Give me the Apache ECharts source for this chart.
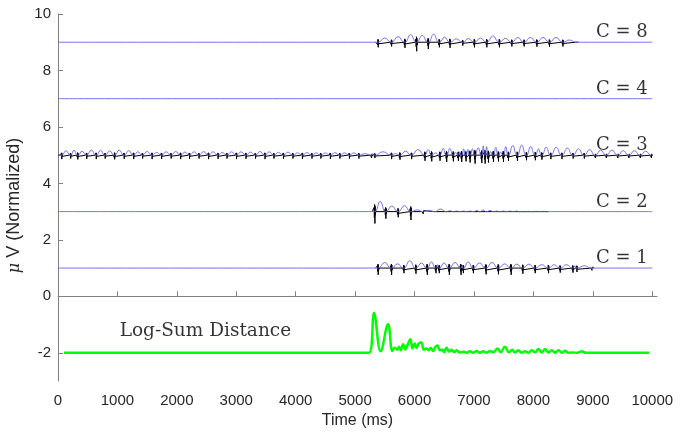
<!DOCTYPE html>
<html>
<head>
<meta charset="UTF-8">
<title>Log-Sum Distance</title>
<script src="https://cdn.jsdelivr.net/npm/echarts@6.0.0/dist/echarts.min.js"></script>
<style>
    html, body {margin: 0; padding: 0; background: #fff;}
    #main {width: 691px; height: 436px;}
</style>
</head>
<body>
<div id="main"></div>
<script type="text/javascript">
    // axes
    var xTicks = [0, 1000, 2000, 3000, 4000, 5000, 6000, 7000, 8000, 9000, 10000];
    var yTicks = [-2, 0, 2, 4, 6, 8, 10];

    // channel names and their offsets
    var chanNames = ['C = 8', 'C = 4', 'C = 3', 'C = 2', 'C = 1'];
    var chanBase = [9, 7, 5, 3, 1];

    // spike times (ms), spike size and envelope hump height between spikes
    var c8Times = [5385, 5610, 5835, 6032, 6228, 6414, 6594, 6808, 7004, 7213, 7425, 7634, 7841, 8056, 8268, 8494, 8718];
    var c8Amps = [0.18, 0.15, 0.2, 0.32, 0.24, 0.18, 0.2, 0.12, 0.18, 0.18, 0.18, 0.15, 0.15, 0.16, 0.16, 0.15, 0.05];
    var c8Humps = [0.15, 0.2, 0.27, 0.24, 0.28, 0.18, 0.12, 0.13, 0.15, 0.22, 0.14, 0.17, 0.17, 0.17, 0.17, 0.08];

    var c4Times = [];
    var c4Amps = [];
    var c4Humps = [];

    var c3Times = [60, 210, 330, 480, 640, 790, 950, 1110, 1270, 1420, 1580, 1740, 1900, 2060, 2210, 2370, 2530,
        2690, 2840, 3000, 3160, 3320, 3480, 3630, 3790, 3950, 4110, 4270, 4420, 4580, 4740, 4900, 5060,
        5273, 5329, 5610, 5751, 5947, 6172, 6285, 6425, 6537, 6650, 6734, 6790, 6863, 6931, 7015, 7128,
        7184, 7240, 7324, 7409, 7493, 7577, 7727, 7880, 8030, 8140, 8290, 8477, 8665, 8853, 9040, 9225,
        9418, 9605, 9797, 9983];
    var c3Amps = [0.14, 0.12, 0.15, 0.13, 0.14, 0.12, 0.15, 0.13, 0.14, 0.12, 0.14, 0.13, 0.12, 0.14, 0.13, 0.12, 0.14,
        0.13, 0.12, 0.14, 0.13, 0.12, 0.14, 0.12, 0.13, 0.12, 0.13, 0.12, 0.12, 0.13, 0.12, 0.12, 0.12,
        0.1, 0.1, 0.14, 0.16, 0.14, 0.2, 0.22, 0.2, 0.24, 0.22, 0.2, 0.24, 0.22, 0.26, 0.3, 0.28,
        0.3, 0.26, 0.24, 0.22, 0.24, 0.2, 0.2, 0.18, 0.18, 0.16, 0.14, 0.14, 0.12, 0.12, 0.1, 0.1,
        0.1, 0.1, 0.1, 0.1];
    var c3Humps = [0.16, 0.18, 0.14, 0.18, 0.17, 0.15, 0.18, 0.16,
        0.12, 0.13, 0.1, 0.12, 0.13, 0.11, 0.12, 0.13, 0.12, 0.1, 0.12, 0.12, 0.11, 0.13, 0.12, 0.1, 0.11,
        0.08, 0.09, 0.08, 0.08, 0.09, 0.08, 0.08, 0.05,
        0.05, 0.12, 0.06, 0.14, 0.2, 0.2, 0.08, 0.24, 0.24, 0.1, 0.12, 0.22, 0.2, 0.22, 0.26, 0.33,
        0.3, 0.12, 0.28, 0.1, 0.3, 0.34, 0.36, 0.3, 0.22, 0.28, 0.28, 0.25, 0.22, 0.2, 0.18, 0.18,
        0.16, 0.16, 0.14];

    var c2Times = [5329, 5514, 5722, 5936, 6144, 6340, 6537, 6650, 6770, 6880, 6990, 7100, 7210, 7330, 7440,
        7550, 7660, 7770, 7880, 7990, 8100, 8210];
    var c2Amps = [0.42, 0.25, 0.2, 0.3, 0.08, 0.06, 0.05, 0.03, 0.04, 0.03, 0.04, 0.03, 0.03, 0.04, 0.03,
        0.04, 0.03, 0.03, 0.02, 0.02, 0.02, 0.02];
    var c2Humps = [0.36, 0.2, 0.21, 0.06, 0.04, 0.09, 0.03, 0.02, 0.02, 0.02, 0.04, 0.06, 0.04, 0.02, 0.02,
        0.02, 0.02, 0.01, 0.01, 0.01, 0.01];

    var c1Times = [5385, 5610, 5818, 6020, 6211, 6357, 6413, 6582, 6779, 6818, 6987, 7200, 7408, 7622, 7819,
        8027, 8251, 8448, 8662, 8729, 8982];
    var c1Amps = [0.24, 0.24, 0.18, 0.2, 0.24, 0.18, 0.18, 0.24, 0.24, 0.18, 0.18, 0.22, 0.22, 0.24, 0.2,
        0.18, 0.18, 0.16, 0.16, 0.14, 0.08];
    var c1Humps = [0.2, 0.15, 0.26, 0.18, 0.22, 0.12, 0.18, 0.2, 0.08, 0.22, 0.18, 0.2, 0.15, 0.14, 0.14,
        0.12, 0.12, 0.12, 0.08, 0.08];

    // Log-Sum Distance curve
    var greenT = [100, 5076, 5233, 5318, 5430, 5554, 5627, 5666, 5706, 5739, 5767, 5807, 5846, 5880, 5930,
        5964, 6003, 6032, 6071, 6116, 6155, 6200, 6240, 6273, 6313, 6352, 6386, 6425, 6464, 6498, 6537,
        6582, 6622, 6667, 6706, 6762, 6819, 6875, 6931, 6987, 7043, 7100, 7156, 7212, 7268, 7324, 7397,
        7448, 7521, 7588, 7645, 7690, 7746, 7802, 7859, 7915, 7971, 8027, 8083, 8140, 8196, 8252, 8308,
        8364, 8421, 8477, 8533, 8589, 8645, 8730, 8814, 8887, 9950];
    var greenV = [-2, -2, -2, -0.59, -1.95, -0.99, -1.94, -1.82, -1.89, -1.79, -1.91, -1.70, -1.88, -1.73, -1.52,
        -1.85, -1.67, -1.83, -1.67, -1.64, -1.89, -1.85, -1.91, -1.82, -1.94, -1.79, -1.74, -1.91, -1.88, -1.98, -1.82,
        -1.96, -1.89, -1.98, -1.91, -1.99, -1.96, -2, -1.95, -2, -1.94, -2, -1.95, -2, -1.94, -1.98, -1.85,
        -1.98, -1.79, -1.98, -1.89, -1.99, -1.91, -2, -1.95, -2, -1.91, -1.98, -1.87, -1.99, -1.87, -1.99, -1.91,
        -2, -1.91, -2, -1.93, -2, -1.99, -2, -1.95, -2, -2];

    var T_START = 0, T_END = 10000;
    // spike waveform shape (ms offset, fraction of spike size)
    var shapeDx = [-16, -10, -5, 0, 4, 8, 12, 16];
    var shapeDy = [0, 0.35, -0.5, 0.6, -1, 0.45, -0.3, 0];

    function blackTrace(base, times, amps, from, to) {
        var pts = [[from, base]];
        for (var i = 0; i < times.length; i++) {
            for (var k = 0; k < shapeDx.length; k++) {
                pts.push([times[i] + shapeDx[k], base + shapeDy[k] * amps[i]]);
            }
        }
        pts.push([to, base]);
        return pts;
    }

    function envelope(base, times, humps) {
        var pts = [[T_START, base]];
        for (var i = 0; i < times.length; i++) {
            pts.push([times[i] - 6, base]);
            pts.push([times[i] + 6, base]);
            if (i < humps.length) {
                pts.push([(times[i] + times[i + 1]) / 2, base + humps[i]]);
            }
        }
        pts.push([T_END, base]);
        return pts;
    }

    var chans = [
        [c8Times, c8Amps, c8Humps],
        [c4Times, c4Amps, c4Humps],
        [c3Times, c3Amps, c3Humps],
        [c2Times, c2Amps, c2Humps],
        [c1Times, c1Amps, c1Humps]
    ];

    var series = [];
    chans.forEach(function (c, idx) {
        var base = chanBase[idx];
        var times = c[0];
        if (times.length) {
            var from = idx === 2 ? T_START : times[0] - 40;
            var to = idx === 2 ? T_END : times[times.length - 1] + 40;
            series.push({
                type: 'line', data: blackTrace(base, times, c[1], from, to),
                showSymbol: false, silent: true, z: 2,
                lineStyle: {color: '#000', width: 1}
            });
        }
        series.push({
            type: 'line', data: envelope(base, times, c[2]),
            showSymbol: false, silent: true, smooth: 0.5, z: 3,
            lineStyle: {color: '#6464ee', width: 0.9}
        });
    });

    var greenData = greenT.map(function (t, i) { return [t, greenV[i]]; });
    series.push({
        type: 'line', data: greenData, showSymbol: false, silent: true, smooth: 0.4, z: 4,
        lineStyle: {color: '#00ff00', width: 2.5}
    });

    // text labels
    var chanLabels = chanNames.map(function (n, i) { return [9933, chanBase[i] + 0.34, n]; });
    series.push({
        type: 'scatter', data: chanLabels, symbolSize: 1, silent: true, z: 5,
        itemStyle: {color: 'rgba(0,0,0,0)'},
        label: {
            show: true, position: 'left', distance: 0,
            formatter: function (p) { return p.data[2]; },
            fontFamily: 'DejaVu Serif', fontSize: 18, color: '#000'
        }
    });
    series.push({
        type: 'scatter', data: [[1029, -1.22, 'Log-Sum Distance']], symbolSize: 1, silent: true, z: 5,
        itemStyle: {color: 'rgba(0,0,0,0)'},
        label: {
            show: true, position: 'right', distance: 0,
            formatter: function (p) { return p.data[2]; },
            fontFamily: 'DejaVu Serif', fontSize: 18.5, color: '#000'
        }
    });

    var myChart = echarts.init(document.getElementById('main'));
    myChart.setOption({
        animation: false,
        backgroundColor: '#fff',
        grid: {left: 58, right: 34, top: 14, bottom: 55, outerBoundsMode: 'none'},
        xAxis: {
            type: 'value', min: 0, max: 10080,
            name: 'Time (ms)', nameLocation: 'middle', nameGap: 28,
            nameTextStyle: {fontFamily: 'Liberation Sans', fontSize: 16, color: '#262626'},
            axisLine: {show: true, lineStyle: {color: '#808080', width: 1}},
            axisTick: {show: true, inside: true, length: 5, customValues: xTicks, lineStyle: {color: '#808080'}},
            axisLabel: {
                customValues: xTicks, margin: 12, fontFamily: 'Liberation Sans', fontSize: 15, color: '#262626',
                formatter: function (v) { return String(v); }
            },
            splitLine: {show: false}
        },
        yAxis: {
            type: 'value', min: -3, max: 10,
            name: '{mu|\u03bc} V (Normalized)', nameLocation: 'middle', nameGap: 27, nameRotate: 90,
            nameTextStyle: {
                fontFamily: 'Liberation Sans', fontSize: 18, color: '#262626', padding: [0, 16, 0, 0],
                rich: {mu: {fontFamily: 'DejaVu Serif', fontStyle: 'italic', fontSize: 16, color: '#262626'}}
            },
            axisLine: {show: true, lineStyle: {color: '#808080', width: 1}},
            axisTick: {show: true, inside: true, length: 5, customValues: yTicks, lineStyle: {color: '#808080'}},
            axisLabel: {
                customValues: yTicks, margin: 7, fontFamily: 'Liberation Sans', fontSize: 15, color: '#262626',
                formatter: function (v) { return String(v); }
            },
            splitLine: {show: false}
        },
        series: series
    });
</script>
</body>
</html>
